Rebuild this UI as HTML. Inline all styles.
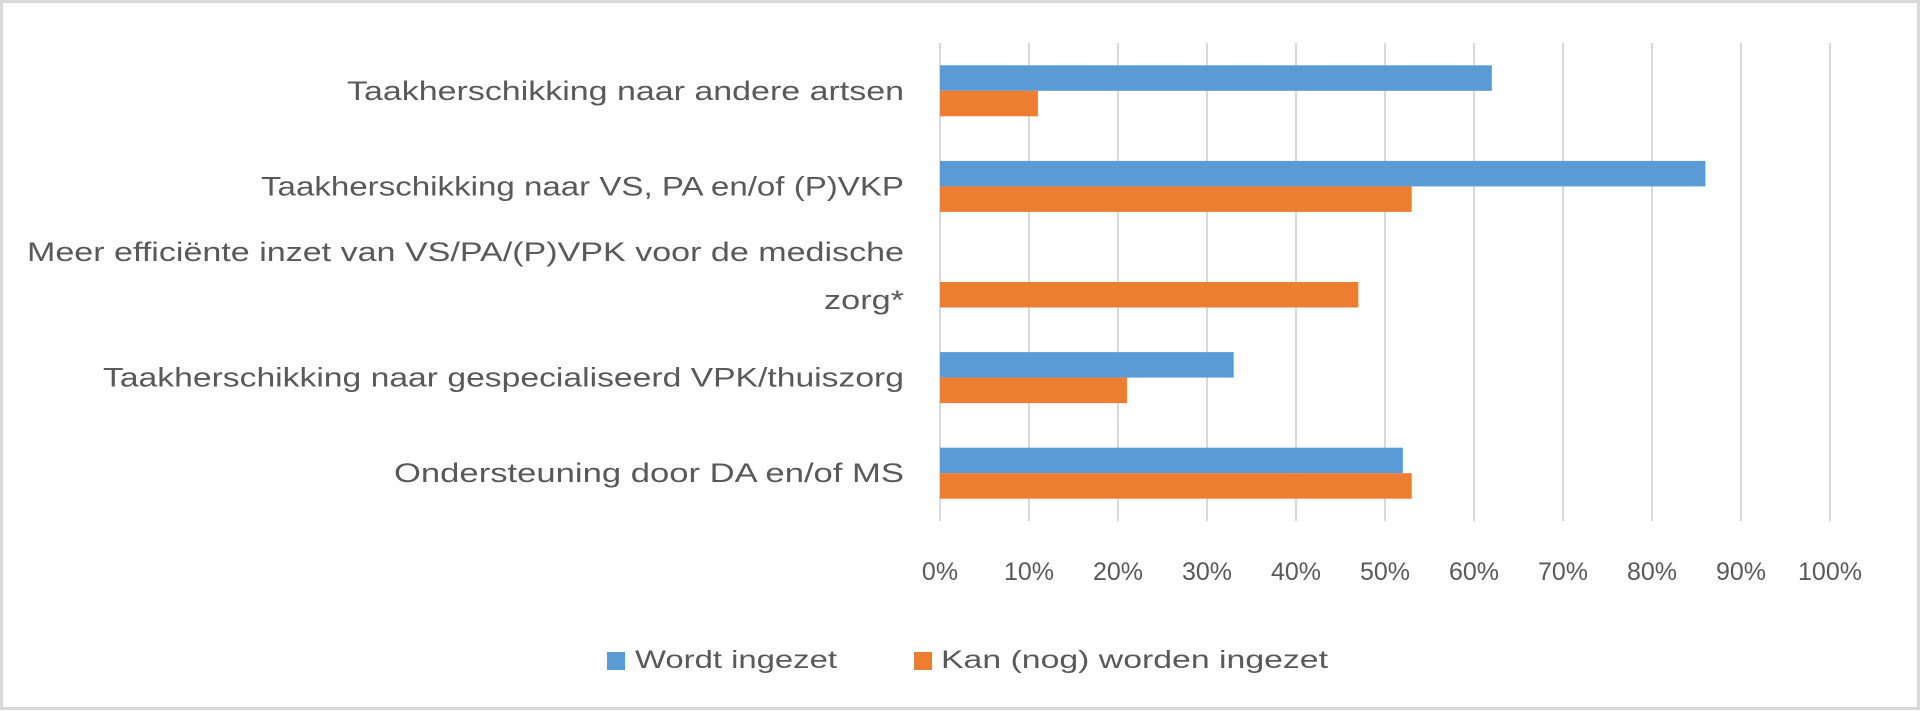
<!DOCTYPE html>
<html><head><meta charset="utf-8"><style>
html,body{margin:0;padding:0;background:#fff;}
svg{display:block;}
text{font-family:"Liberation Sans",sans-serif;fill:#595959;}
</style></head><body>
<svg id="chart" width="1920" height="711" xmlns="http://www.w3.org/2000/svg">
<rect x="1.5" y="1.5" width="1917" height="707" fill="#fff" stroke="#d9d9d9" stroke-width="3"/>
<g id="grid"></g><g id="bars"></g><g id="labels"></g><g id="ticks"></g>
<g>
<rect x="607" y="652" width="18" height="18" fill="#5b9bd5"/>
<text x="635" y="668" font-size="25" textLength="202" lengthAdjust="spacingAndGlyphs">Wordt ingezet</text>
<rect x="914" y="652" width="18" height="18" fill="#ed7d31"/>
<text x="941" y="668" font-size="25" textLength="387" lengthAdjust="spacingAndGlyphs">Kan (nog) worden ingezet</text>
</g>
</svg>
<script>
const categories=["Taakherschikking naar andere artsen","Taakherschikking naar VS, PA en/of (P)VKP","Meer efficiënte inzet van VS/PA/(P)VPK voor de medische|zorg*","Taakherschikking naar gespecialiseerd VPK/thuiszorg","Ondersteuning door DA en/of MS"];
const wordtIngezet=[62,86,0,33,52];
const kanIngezet=[11,53,47,21,53];
const tickValues=[0,10,20,30,40,50,60,70,80,90,100];
const tickLabels=["0%","10%","20%","30%","40%","50%","60%","70%","80%","90%","100%"];
const labelWidths=[[557],[643],[877,80],[801],[510]];
const NS="http://www.w3.org/2000/svg";
const x0=940,x1=1830,yTop=43,yBot=521;
const band=(yBot-yTop)/categories.length;
const xs=v=>x0+(x1-x0)*v/100;
const yc=i=>yTop+band*(i+0.5);
const barH=25.5;
function mk(tag,attrs,parent){const e=document.createElementNS(NS,tag);for(const k in attrs)e.setAttribute(k,attrs[k]);parent.appendChild(e);return e;}
const grid=document.getElementById('grid'),bars=document.getElementById('bars'),labels=document.getElementById('labels'),ticks=document.getElementById('ticks');
tickValues.forEach((v,i)=>{
 const l=mk('line',{x1:xs(v),x2:xs(v),y1:yTop,y2:yBot,stroke:'#d9d9d9','stroke-width':2},grid);
 
 
 const t=mk('text',{x:xs(v),y:580,'font-size':25,'text-anchor':'middle'},ticks);
 t.textContent=tickLabels[i];
 
 
});
categories.forEach((c,i)=>{
 const b1=mk('rect',{x:x0,y:yc(i)-barH,width:xs(wordtIngezet[i])-x0,height:barH,fill:'#5b9bd5'},bars);
 
 
 const b2=mk('rect',{x:x0,y:yc(i),width:xs(kanIngezet[i])-x0,height:barH,fill:'#ed7d31'},bars);
 
 
 const lines=c.split('|');
 lines.forEach((ln,j)=>{
  const yy=lines.length===1?yc(i)+9:yc(i)+9+(j-0.5)*48-6;
  const t=mk('text',{x:904,y:yy,'font-size':27,'text-anchor':'end',textLength:labelWidths[i][j],lengthAdjust:'spacingAndGlyphs'},labels);
  t.textContent=ln;
  
  
 });
});
</script>
</body></html>
